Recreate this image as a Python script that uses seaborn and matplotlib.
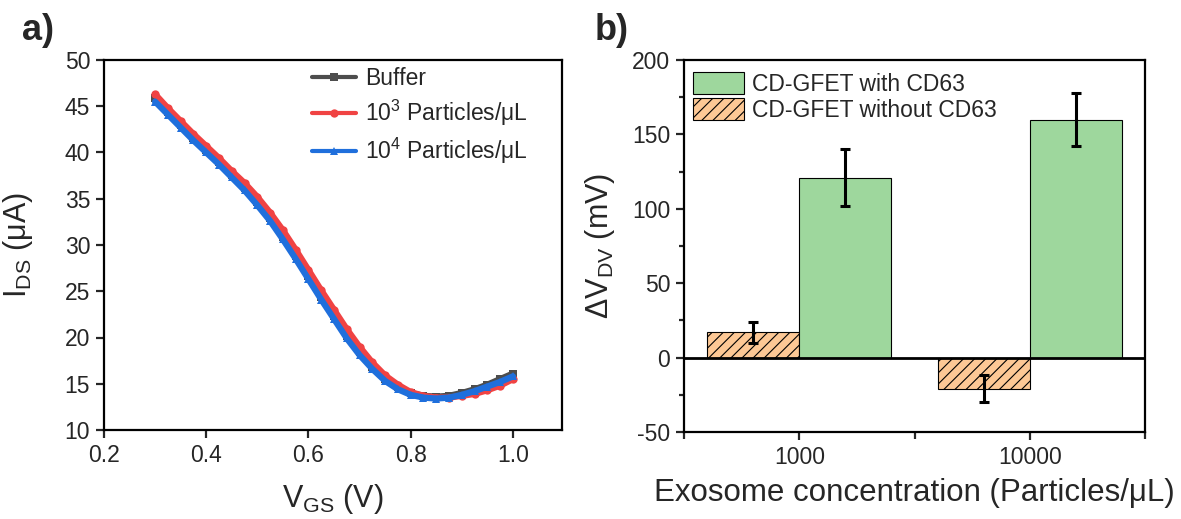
import numpy as np
import pandas as pd
import matplotlib
matplotlib.use("Agg")
import matplotlib.pyplot as plt
import seaborn as sns
from matplotlib.patches import Patch
from matplotlib.lines import Line2D
from matplotlib.ticker import MultipleLocator, FixedLocator

# ---------------- data ----------------
vgs = [0.300, 0.325, 0.350, 0.375, 0.400, 0.425, 0.450, 0.475, 0.500, 0.525,
       0.550, 0.575, 0.600, 0.625, 0.650, 0.675, 0.700, 0.725, 0.750, 0.775,
       0.800, 0.825, 0.850, 0.875, 0.900, 0.925, 0.950, 0.975, 1.000]
ids_buffer = [45.9, 44.4, 43.0, 41.6, 40.3, 39.0, 37.6, 36.2, 34.6, 32.9,
              30.9, 28.8, 26.6, 24.4, 22.3, 20.2, 18.4, 16.8, 15.5, 14.6,
              14.0, 13.7, 13.6, 13.7, 14.0, 14.4, 14.9, 15.5, 16.1]
ids_1e3 = [46.3, 44.8, 43.4, 42.0, 40.7, 39.4, 38.0, 36.7, 35.2, 33.5,
           31.6, 29.5, 27.3, 25.1, 23.0, 20.9, 19.0, 17.3, 15.9, 14.9,
           14.1, 13.7, 13.5, 13.5, 13.7, 13.9, 14.3, 14.8, 15.5]
ids_1e4 = [45.5, 44.1, 42.7, 41.3, 40.0, 38.7, 37.3, 35.9, 34.3, 32.6,
           30.6, 28.5, 26.3, 24.1, 22.0, 19.9, 18.1, 16.6, 15.3, 14.4,
           13.8, 13.5, 13.4, 13.5, 13.8, 14.2, 14.7, 15.2, 15.8]
sample_labels = ["Buffer", r"$\mathregular{10^3}$ Particles/μL", r"$\mathregular{10^4}$ Particles/μL"]

concentrations = ["1000", "10000"]
dv_with = [121, 160]
dv_with_err = [19, 18]
dv_without = [17, -21]
dv_without_err = [7, 9]
group_labels = ["CD-GFET with CD63", "CD-GFET without CD63"]

# ---------------- style ----------------
sns.set_theme(style="ticks")
plt.rcParams["font.family"] = ["Liberation Sans", "DejaVu Sans"]
plt.rcParams["mathtext.fontset"] = "custom"
plt.rcParams["mathtext.rm"] = "Liberation Sans"
plt.rcParams["axes.unicode_minus"] = False
plt.rcParams["hatch.linewidth"] = 0.8
plt.rcParams["axes.linewidth"] = 1.6

c_gray = "#4d4d4d"
c_red = "#f04343"
c_blue = "#1f6fdc"
c_green = "#9ed79d"
c_orange = "#fdc895"

fig = plt.figure(figsize=(11.81, 5.19), dpi=100)
ax1 = fig.add_axes([104/1181, 1-430/519, 458/1181, 370/519])
ax2 = fig.add_axes([684/1181, 1-432/519, 461/1181, 372/519])

TICK_FS = 16.5

# ---------------- panel a ----------------
df_a = pd.concat([
    pd.DataFrame({"V": vgs, "I": ids_buffer, "sample": sample_labels[0]}),
    pd.DataFrame({"V": vgs, "I": ids_1e3, "sample": sample_labels[1]}),
    pd.DataFrame({"V": vgs, "I": ids_1e4, "sample": sample_labels[2]}),
])
sns.lineplot(data=df_a, x="V", y="I", hue="sample", style="sample",
             hue_order=sample_labels, style_order=sample_labels,
             palette=[c_gray, c_red, c_blue],
             markers={sample_labels[0]: "s", sample_labels[1]: "o", sample_labels[2]: "^"},
             dashes=False, linewidth=4.5, markersize=6, markeredgewidth=0,
             legend=False, ax=ax1, sort=False)
ax1.set_xlim(0.2, 1.096)
ax1.set_ylim(10, 50)
ax1.set_xticks([0.2, 0.4, 0.6, 0.8, 1.0])
ax1.set_yticks([10, 15, 20, 25, 30, 35, 40, 45, 50])
ax1.xaxis.set_major_formatter(matplotlib.ticker.FormatStrFormatter("%.1f"))
ax1.tick_params(axis="both", direction="out", length=6, width=1.6, labelsize=TICK_FS, pad=4,
                top=False, right=False)
for s in ax1.spines.values():
    s.set_visible(True)
    s.set_color("black")
ax1.set_xlabel(r"$\mathregular{V_{GS}}$ (V)", fontsize=22)
ax1.set_ylabel(r"$\mathregular{I_{DS}}$ (μA)", fontsize=22)
ax1.xaxis.set_label_coords(0.5, -0.14)
ax1.yaxis.set_label_coords(-0.15, 0.5)
handles_a = [
    Line2D([], [], color=c_gray, lw=3, marker="s", markersize=6, markeredgewidth=0),
    Line2D([], [], color=c_red, lw=3, marker="o", markersize=6, markeredgewidth=0),
    Line2D([], [], color=c_blue, lw=3, marker="^", markersize=6, markeredgewidth=0),
]
ax1.legend(handles_a, sample_labels, loc="upper left", bbox_to_anchor=(0.44, 1.0),
           frameon=False, fontsize=16.5, handlelength=1.9, handletextpad=0.4,
           labelspacing=0.35, borderaxespad=0, borderpad=0.3)

# ---------------- panel b ----------------
df_b = pd.DataFrame({
    "conc": concentrations * 2,
    "dv": dv_without + dv_with,
    "group": [group_labels[1]] * 2 + [group_labels[0]] * 2,
})
sns.barplot(data=df_b, x="conc", y="dv", hue="group",
            hue_order=[group_labels[1], group_labels[0]],
            order=concentrations, palette=[c_orange, c_green], saturation=1,
            width=0.8, edgecolor="black", linewidth=0.8, errorbar=None,
            legend=False, ax=ax2, zorder=2)
for p in ax2.containers[0]:
    p.set_hatch("///")
# error bars
for cont, vals, errs in [(ax2.containers[0], dv_without, dv_without_err),
                         (ax2.containers[1], dv_with, dv_with_err)]:
    xs = [p.get_x() + p.get_width() / 2 for p in cont]
    ax2.errorbar(xs, vals, yerr=errs, fmt="none", ecolor="black",
                 elinewidth=2.2, capsize=3.5, capthick=2.2, zorder=4)
ax2.axhline(0, color="black", lw=2, zorder=3)
ax2.set_xlim(-0.5, 1.5)
ax2.set_ylim(-50, 200)
ax2.set_yticks([-50, 0, 50, 100, 150, 200])
ax2.yaxis.set_minor_locator(MultipleLocator(25))
ax2.xaxis.set_minor_locator(FixedLocator([-0.5, 0.5, 1.5]))
ax2.tick_params(axis="both", which="major", direction="out", length=6, width=1.6,
                labelsize=TICK_FS, pad=4, top=False, right=False)
ax2.tick_params(axis="y", which="minor", direction="out", length=3.5, width=1.6,
                left=True, right=False)
ax2.tick_params(axis="x", which="minor", direction="out", length=5, width=1.6,
                bottom=True, top=False)
for s in ax2.spines.values():
    s.set_visible(True)
    s.set_color("black")
ax2.set_xlabel("Exosome concentration (Particles/μL)", fontsize=22.5)
ax2.set_ylabel(r"Δ$\mathregular{V_{DV}}$ (mV)", fontsize=22)
ax2.xaxis.set_label_coords(0.5, -0.125)
ax2.yaxis.set_label_coords(-0.145, 0.5)
handles_b = [
    Patch(facecolor=c_green, edgecolor="black", linewidth=0.8),
    Patch(facecolor=c_orange, edgecolor="black", linewidth=0.8, hatch="///"),
]
ax2.legend(handles_b, group_labels, loc="upper left", bbox_to_anchor=(0.02, 0.968),
           frameon=False, fontsize=16.5, handlelength=2.2, handleheight=1.1,
           handletextpad=0.35, labelspacing=0.12, borderaxespad=0, borderpad=0)

# panel letters
fig.text(22/1181, 1-30/519, "a)", fontsize=26, fontweight="bold", va="center", ha="left")
fig.text(595/1181, 1-30/519, "b)", fontsize=26, fontweight="bold", va="center", ha="left")

fig.savefig("out.png", dpi=100)
